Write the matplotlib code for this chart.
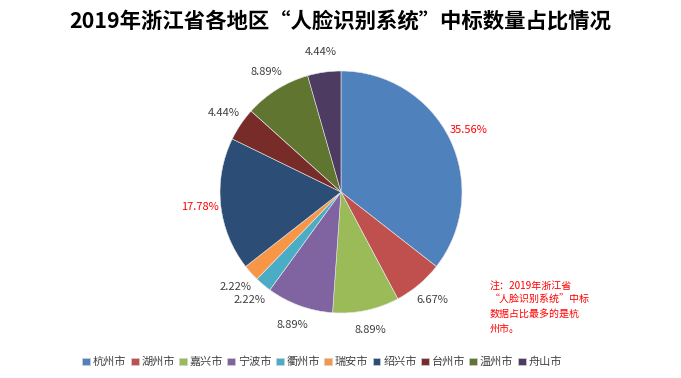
import matplotlib
matplotlib.use('Agg')
import matplotlib.pyplot as plt
from matplotlib.patches import Patch

plt.rcParams['font.family'] = ['Noto Sans CJK SC', 'DejaVu Sans']

cities = ['杭州市', '湖州市', '嘉兴市', '宁波市', '衢州市', '瑞安市', '绍兴市', '台州市', '温州市', '舟山市']
counts = [16, 3, 4, 4, 1, 1, 8, 2, 4, 2]
pct_labels = ['35.56%', '6.67%', '8.89%', '8.89%', '2.22%', '2.22%', '17.78%', '4.44%', '8.89%', '4.44%']
label_colors = ['red', '#404040', '#404040', '#404040', '#404040', '#404040', 'red', '#404040', '#404040', '#404040']
colors = ['#4F81BD', '#C0504D', '#9BBB59', '#8064A2', '#4BACC6', '#F79646',
          '#2C4D75', '#772C2A', '#5F7530', '#4D3B62']

fig = plt.figure(figsize=(6.81, 3.78), dpi=100)
# pie centre ~ (341,192) px, radius ~121 px
w = 242 / 681
h = 242 / 378
ax = fig.add_axes([341 / 681 - w / 2, 1 - 192 / 378 - h / 2, w, h])

wedges, texts = ax.pie(counts, colors=colors, startangle=90, counterclock=False,
                       labels=pct_labels, labeldistance=1.17,
                       wedgeprops=dict(edgecolor='#e8e8e8', linewidth=0.4),
                       textprops=dict(fontsize=8))
for t, c in zip(texts, label_colors):
    t.set_color(c)
    t.set_ha('center')
    t.set_va('center')
ax.set_xlim(-1, 1)
ax.set_ylim(-1, 1)
ax.set_aspect('equal')

fig.text(0.5, 1 - 22 / 378, '2019年浙江省各地区“人脸识别系统”中标数量占比情况',
         ha='center', va='center', fontsize=15.4, fontweight='bold', color='black')

fig.text(490 / 681, 1 - 307 / 378,
         '注：2019年浙江省\n“人脸识别系统”中标\n数据占比最多的是杭\n州市。',
         ha='left', va='center', fontsize=7.2, color='red', linespacing=1.55)

handles = [Patch(facecolor=c, edgecolor='#d0d0d0', linewidth=0.5) for c in colors]
fig.legend(handles, cities, loc='center', bbox_to_anchor=(322 / 681, 1 - 362 / 378),
           ncol=10, frameon=False, fontsize=8, handlelength=0.7, handleheight=0.7,
           handletextpad=0.25, columnspacing=0.4, labelcolor='#404040')

fig.savefig('out.png', dpi=100)
